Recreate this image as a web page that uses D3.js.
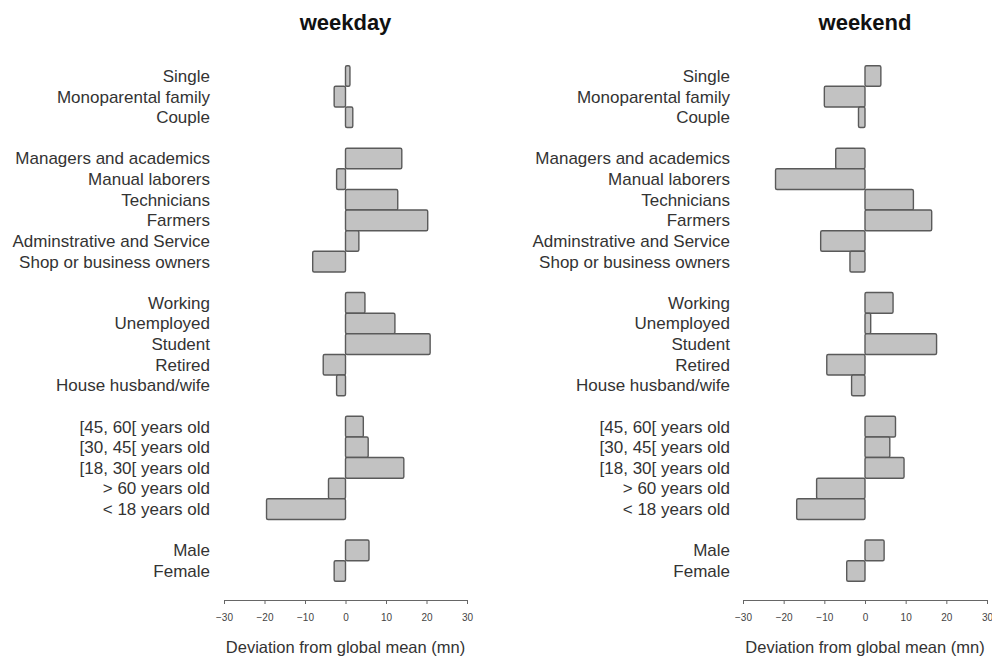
<!DOCTYPE html>
<html><head><meta charset="utf-8">
<script src="https://cdn.jsdelivr.net/npm/d3@7"></script>
<style>body{margin:0;background:#fff}svg{display:block}text{font-family:"Liberation Sans",Arial,sans-serif;fill:#222}</style>
</head><body>
<svg id="c" width="992" height="660"></svg>
<script>
const categories = ["Single","Monoparental family","Couple",
  "Managers and academics","Manual laborers","Technicians","Farmers","Adminstrative and Service","Shop or business owners",
  "Working","Unemployed","Student","Retired","House husband/wife",
  "[45, 60[ years old","[30, 45[ years old","[18, 30[ years old","> 60 years old","< 18 years old",
  "Male","Female"];
const groupSizes = [3, 6, 5, 5, 2];
const weekday = [1.1, -2.8, 1.8, 13.9, -2.2, 12.9, 20.3, 3.3, -8.1, 4.8, 12.2, 20.9, -5.5, -2.2, 4.4, 5.6, 14.4, -4.2, -19.5, 5.8, -2.8];
const weekend = [3.9, -10, -1.6, -7.2, -22, 11.9, 16.4, -10.9, -3.7, 6.9, 1.4, 17.6, -9.4, -3.3, 7.5, 6.1, 9.6, -11.9, -16.8, 4.7, -4.5];
const panelTitles = ["weekday", "weekend"];
const xTicks = [-30, -20, -10, 0, 10, 20, 30];
const xLabel = "Deviation from global mean (mn)";

const svg = d3.select("#c");
const slots = [];
let s = 0;
groupSizes.forEach((n) => { for (let k = 0; k < n; k++) slots.push(s++); s++; });
const nSlots = s - 1;
const y = d3.scaleBand().domain(d3.range(nSlots)).range([65.7, 581.3]).paddingInner(0).paddingOuter(0);

const panels = [
  {title: panelTitles[0], values: weekday, x0: 224, x1: 467, labelX: 210},
  {title: panelTitles[1], values: weekend, x0: 743, x1: 987, labelX: 730}
];

panels.forEach(p => {
  const x = d3.scaleLinear().domain([-30, 30]).range([p.x0, p.x1]);
  const g = svg.append("g");
  g.append("text").attr("x", x(0)).attr("y", 30).attr("text-anchor", "middle")
    .style("font-weight", "bold").style("font-size", "22px").style("fill", "#111").text(p.title);
  g.selectAll("text.lab").data(categories).join("text").attr("class", "lab")
    .attr("x", p.labelX).attr("y", (d, i) => y(slots[i]) + y.bandwidth() / 2)
    .attr("dy", "0.35em").attr("text-anchor", "end").style("font-size", "17px").style("fill", "#333").text(d => d);
  g.selectAll("rect").data(p.values).join("rect")
    .attr("x", d => x(Math.min(0, d))).attr("width", d => Math.abs(x(d) - x(0)))
    .attr("y", (d, i) => y(slots[i])).attr("height", y.bandwidth())
    .attr("rx", 1.5)
    .attr("fill", "#c2c2c2").attr("stroke", "#5a5a5a").attr("stroke-width", 1.4);
  const ax = g.append("g").attr("transform", "translate(0,600)")
    .call(d3.axisBottom(x).tickValues(xTicks).tickSize(4).tickSizeOuter(4).tickPadding(10).tickFormat(d => d < 0 ? "\u2212" + Math.abs(d) : d));
  ax.select(".domain").attr("stroke", "#666");
  ax.selectAll(".tick line").attr("stroke", "#666");
  ax.selectAll(".tick text").style("font-size", "10px").style("fill", "#444").attr("font-family", null);
  g.append("text").attr("x", x(0)).attr("y", 653).attr("text-anchor", "middle")
    .style("font-size", "16.5px").style("fill", "#333").text(xLabel);
});
</script>
</body></html>
